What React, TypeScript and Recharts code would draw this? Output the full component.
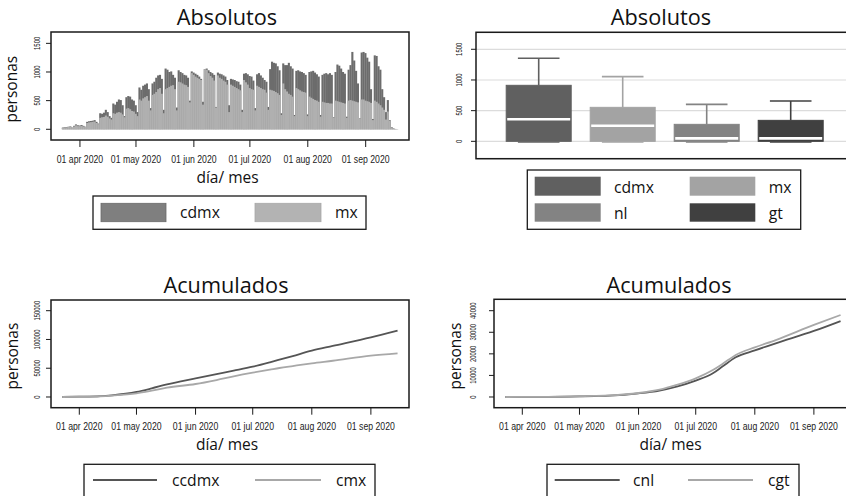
import React from 'react';
import { BarChart, Bar, XAxis, YAxis, LineChart, Line, CartesianGrid } from 'recharts';

// ---------- data ----------
const DAY_MS = 86400000;
const firstDate = '2020-03-23';

// daily cases, one value per day starting 23 mar 2020
const cdmx = [
  30, 35, 40, 45, 50, 30,
  60, 85, 70, 65, 75, 60, 45,
  130, 140, 145, 150, 160, 130, 100,
  280, 270, 290, 340, 300, 230, 200,
  450, 430, 480, 520, 510, 420, 230,
  560, 580, 570, 520, 500, 420, 300,
  730, 690, 760, 780, 800, 700, 370,
  800, 830, 900, 940, 950, 880, 340,
  1060, 1040, 1000, 1010, 950, 900, 380,
  1030, 1000, 980, 950, 940, 900, 500,
  1010, 990, 970, 950, 920, 880, 480,
  1050, 1060, 1030, 1000, 980, 950, 390,
  990, 970, 960, 940, 920, 860, 420,
  880, 870, 860, 840, 830, 780, 340,
  970, 980, 960, 930, 920, 850, 370,
  960, 980, 940, 900, 860, 830, 390,
  1050, 1180, 1160, 1150, 1100, 1030, 280,
  1150, 1120, 1120, 1160, 1100, 1060, 250,
  1020, 1030, 1010, 1000, 980, 950, 260,
  1000, 1010, 1020, 990, 960, 920, 250,
  950, 970, 980, 960, 980, 950, 210,
  1000, 1130, 1110, 1060, 1000, 970, 220,
  1040, 1120, 1350, 1200, 1020, 800, 190,
  1340, 1350, 1330, 1250, 1180, 700, 180,
  1290, 1280, 1100, 1040, 700, 560, 300,
  510, 160, 40, 15, 6, 3,
];

const mx = [
  25, 30, 35, 40, 40, 28,
  50, 70, 55, 55, 60, 50, 40,
  110, 120, 125, 130, 135, 110, 90,
  200, 210, 215, 240, 220, 190, 170,
  280, 270, 290, 300, 290, 260, 210,
  360, 370, 350, 320, 310, 270, 230,
  520, 500, 540, 560, 580, 500, 330,
  600, 620, 650, 700, 720, 620, 280,
  700, 720, 740, 760, 770, 700, 330,
  830, 820, 800, 780, 770, 740, 470,
  980, 950, 920, 900, 880, 860, 430,
  1050, 1040, 980, 930, 900, 850, 380,
  940, 900, 880, 850, 830, 780, 300,
  780, 760, 740, 720, 700, 680, 300,
  860, 820, 780, 720, 700, 690, 330,
  760, 740, 720, 700, 690, 640, 340,
  690, 680, 670, 650, 630, 600, 250,
  800, 700, 660, 620, 600, 570, 230,
  720, 700, 680, 660, 650, 640, 230,
  570, 550, 530, 510, 500, 480, 220,
  480, 470, 460, 460, 450, 450, 200,
  500, 490, 480, 470, 460, 450, 200,
  500, 510, 500, 490, 480, 470, 180,
  520, 520, 500, 490, 480, 460, 160,
  500, 480, 450, 420, 380, 340, 170,
  310, 150, 35, 12, 5, 2,
];

const monthTickDates = ['2020-04-01', '2020-05-01', '2020-06-01', '2020-07-01', '2020-08-01', '2020-09-01'];
const monthTickLabels = ['01 apr 2020', '01 may 2020', '01 jun 2020', '01 jul 2020', '01 aug 2020', '01 sep 2020'];
const absTicks = [0, 500, 1000, 1500];

// boxplot summaries of the daily counts
const boxStates = ['cdmx', 'mx', 'nl', 'gt'];
const boxMin = [0, 0, 0, 0];
const boxQ1 = [0, 0, 0, 0];
const boxMedian = [359, 254, 49, 49];
const boxQ3 = [913, 554, 277, 342];
const boxMax = [1353, 1054, 603, 657];

// accumulated cases
const cumDates = [
  '2020-03-23', '2020-04-01', '2020-04-12', '2020-04-18', '2020-05-01', '2020-05-09',
  '2020-05-17', '2020-06-01', '2020-06-12', '2020-06-21', '2020-07-01', '2020-07-10',
  '2020-07-15', '2020-07-22', '2020-08-01', '2020-08-12', '2020-09-01', '2020-09-15',
];
const ccdmx = [0, 500, 1500, 3000, 8700, 15000, 22000, 32400, 39800, 45800, 52700, 60300, 64800, 71200, 80500, 88700, 103600, 115200];
const cmx = [0, 400, 1300, 2500, 6400, 11000, 16200, 22600, 29500, 35900, 42300, 47500, 50400, 53800, 58500, 63000, 71800, 75800];
const cnl = [0, 20, 50, 80, 300, 450, 650, 1700, 3000, 4800, 7600, 11000, 14100, 18400, 21600, 24900, 30600, 35200];
const cgt = [0, 30, 70, 110, 350, 500, 750, 1850, 3400, 5600, 8650, 12500, 15300, 19500, 23000, 26400, 33400, 38000];
const cumTicksBig = [0, 50000, 100000, 150000];
const cumTicksSmall = [0, 10000, 20000, 30000, 40000];

// ---------- helpers ----------
const toTime = (s: string) => Date.parse(s + 'T00:00:00Z');
const t0 = toTime(firstDate);
const apr1 = toTime('2020-04-01');
const monthTickTimes = monthTickDates.map(toTime);
const fmtMonth = (t: number) => monthTickLabels[monthTickTimes.indexOf(t)] ?? '';

const dailyRows = cdmx.map((v, i) => ({ t: t0 + i * DAY_MS, cdmx: v, mx: mx[i] }));
const boxRows = boxStates.map((s, i) => ({
  state: s,
  range: [boxMin[i], boxMax[i]],
  q1: boxQ1[i],
  median: boxMedian[i],
  q3: boxQ3[i],
}));
const cumRows = cumDates.map((d, i) => ({ t: toTime(d), ccdmx: ccdmx[i], cmx: cmx[i], cnl: cnl[i], cgt: cgt[i] }));

// ---------- styles ----------
const SANS = "'Open Sans', 'Noto Sans', sans-serif";
const TICK_FONT = "'Liberation Sans', Arial, sans-serif";
const INK = '#1a1a1a';
const BAR_DARK = '#6c6c6c';
const BAR_LIGHT = '#b0b0b0';
const BOX_COLORS: Record<string, string> = { cdmx: '#606060', mx: '#a3a3a3', nl: '#838383', gt: '#404040' };
const LINE_DARK = '#555555';
const LINE_LIGHT = '#a8a8a8';

const barDomain = [apr1 - 15.5 * DAY_MS, apr1 + 176.2 * DAY_MS];
const lineDomain = [apr1 - 14.85 * DAY_MS, apr1 + 173.0 * DAY_MS];

// condensed date labels under the x axis
const DateTick = (props: any) => {
  const { x, y, payload } = props;
  return (
    <text transform={`translate(${x} ${y}) scale(0.83 1)`} textAnchor="middle" dy={7.6}
      fontSize={10.5} fontFamily={TICK_FONT} fill="#222">
      {fmtMonth(payload.value)}
    </text>
  );
};

// vertical, condensed value labels on the y axis
const RotatedTick = (props: any) => {
  const { x, y, payload } = props;
  return (
    <text transform={`translate(${x} ${y}) rotate(-90) scale(0.7 1)`} textAnchor="middle"
      fontSize={8.5} fontFamily={TICK_FONT} fill="#222">
      {payload.value}
    </text>
  );
};

// one day's column, widened to close the gap to its neighbours
const DayBar = (props: any) => {
  const { x, y, width, height, fill } = props;
  if (!(height > 0)) return null;
  const cx = x + width / 2;
  return <rect x={cx - 1.05} y={y} width={2.1} height={height} fill={fill} />;
};

const BoxShape = (props: any) => {
  const { x, y, width, height, payload } = props;
  const [lo, hi] = payload.range;
  const bottom = y + height;
  const px = (v: number) => bottom - ((v - lo) / (hi - lo)) * height;
  const cx = x + width / 2;
  const cap = width * 0.32;
  const col = BOX_COLORS[payload.state];
  const top = px(payload.q3);
  const base = px(payload.q1);
  return (
    <g>
      <line x1={cx} x2={cx} y1={top} y2={px(hi)} stroke={col} strokeWidth={1.6} />
      <line x1={cx - cap} x2={cx + cap} y1={px(hi)} y2={px(hi)} stroke={col} strokeWidth={1.6} />
      <line x1={cx - cap} x2={cx + cap} y1={px(lo) + 0.8} y2={px(lo) + 0.8} stroke={col} strokeWidth={1.4} />
      <rect x={x} y={top} width={width} height={base - top} fill={col} stroke={col} strokeWidth={1} />
      <line x1={x + 1} x2={x + width - 1} y1={px(payload.median)} y2={px(payload.median)} stroke="#ffffff" strokeWidth={2.6} />
    </g>
  );
};

const pos = (left: number, top: number): React.CSSProperties => ({ position: 'absolute', left, top });

export default function App() {
  return (
    <div style={{ position: 'fixed', left: 0, top: 0, width: 846, height: 496, overflow: 'hidden', background: '#ffffff' }}>
      {/* daily bars */}
      <div style={pos(0, 0)}>
        <BarChart width={423} height={250} data={dailyRows} margin={{ top: 32, right: 14, left: 11, bottom: 70 }}>
          <XAxis xAxisId="a" dataKey="t" type="number" domain={barDomain} allowDataOverflow
            ticks={monthTickTimes} interval={0} height={40}
            axisLine={false} tickSize={7} tickMargin={8} tick={<DateTick />} tickLine={{ stroke: INK }} />
          <XAxis xAxisId="b" dataKey="t" type="number" domain={barDomain} allowDataOverflow hide />
          <YAxis domain={[-187, 1698]} ticks={absTicks} interval={0} width={40} axisLine={false}
            tickSize={5} tickMargin={6.3} tick={<RotatedTick />} tickLine={{ stroke: INK }} allowDataOverflow />
          <Bar xAxisId="a" dataKey="cdmx" fill={BAR_DARK} shape={<DayBar />} isAnimationActive={false} />
          <Bar xAxisId="b" dataKey="mx" fill={BAR_LIGHT} shape={<DayBar />} isAnimationActive={false} />
        </BarChart>
      </div>

      {/* boxplots */}
      <div style={pos(423, 0)}>
        <BarChart width={423} height={250} data={boxRows} margin={{ top: 32.3, right: 0, left: 13, bottom: 91.3 }}>
          <CartesianGrid vertical={false} stroke="#dcdcdc" strokeWidth={1.2} />
          <XAxis dataKey="state" hide padding={{ left: 20.2, right: 13.8 }} />
          <YAxis domain={[-283, 1777]} ticks={absTicks} interval={0} width={40} axisLine={false}
            tickSize={5} tickMargin={9} tick={<RotatedTick />} tickLine={{ stroke: INK }} allowDataOverflow />
          <Bar dataKey="range" barSize={65} shape={<BoxShape />} isAnimationActive={false} />
        </BarChart>
      </div>

      {/* accumulated cdmx / mx */}
      <div style={pos(0, 250)}>
        <LineChart width={423} height={246} data={cumRows} margin={{ top: 50, right: 14, left: 11, bottom: 48.3 }}>
          <XAxis dataKey="t" type="number" domain={lineDomain} allowDataOverflow
            ticks={monthTickTimes} interval={0} height={40}
            axisLine={false} tickSize={7} tickMargin={7.3} tick={<DateTick />} tickLine={{ stroke: INK }} />
          <YAxis domain={[-18600, 168600]} ticks={cumTicksBig} interval={0} width={40} axisLine={false}
            tickSize={5} tickMargin={6.3} tick={<RotatedTick />} tickLine={{ stroke: INK }} allowDataOverflow />
          <Line dataKey="ccdmx" type="monotone" stroke={LINE_DARK} strokeWidth={1.8} dot={false} isAnimationActive={false} />
          <Line dataKey="cmx" type="monotone" stroke={LINE_LIGHT} strokeWidth={1.8} dot={false} isAnimationActive={false} />
        </LineChart>
      </div>

      {/* accumulated nl / gt */}
      <div style={pos(423, 250)}>
        <LineChart width={429} height={246} data={cumRows} margin={{ top: 49.3, right: 0, left: 31, bottom: 48.3 }}>
          <XAxis dataKey="t" type="number" domain={lineDomain} allowDataOverflow
            ticks={monthTickTimes} interval={0} height={40}
            axisLine={false} tickSize={7} tickMargin={7.3} tick={<DateTick />} tickLine={{ stroke: INK }} />
          <YAxis domain={[-4960, 45280]} ticks={cumTicksSmall} interval={0} width={40} axisLine={false}
            tickSize={5} tickMargin={13} tick={<RotatedTick />} tickLine={{ stroke: INK }} allowDataOverflow />
          <Line dataKey="cnl" type="monotone" stroke={LINE_DARK} strokeWidth={1.8} dot={false} isAnimationActive={false} />
          <Line dataKey="cgt" type="monotone" stroke={LINE_LIGHT} strokeWidth={1.8} dot={false} isAnimationActive={false} />
        </LineChart>
      </div>

      {/* frames, titles, axis titles and legends */}
      <svg width={846} height={496} style={{ position: 'absolute', left: 0, top: 0, pointerEvents: 'none' }}
        fontFamily={SANS} fill="#111">
        <g fill="none" stroke={INK} strokeWidth={1.5}>
          <rect x={51} y={32} width={358} height={108} />
          <rect x={476} y={32.3} width={380} height={126.4} />
          <rect x={51} y={300} width={358} height={107.7} />
          <rect x={494} y={299.3} width={370} height={108.4} />
        </g>

        <g fontSize={21.7} textAnchor="middle">
          <text x={227} y={25}>Absolutos</text>
          <text x={661} y={25}>Absolutos</text>
          <text x={226} y={292.5}>Acumulados</text>
          <text x={669} y={292.5}>Acumulados</text>
        </g>

        <g fontSize={15.5} textAnchor="middle">
          <text x={227.5} y={183}>día/ mes</text>
          <text x={227} y={450}>día/ mes</text>
          <text x={670.5} y={450}>día/ mes</text>
          <text x={17.5} y={89.2} transform="rotate(-90 17.5 89.2)">personas</text>
          <text x={17.5} y={356} transform="rotate(-90 17.5 356)">personas</text>
          <text x={460.5} y={356} transform="rotate(-90 460.5 356)">personas</text>
        </g>

        {/* legend: daily bars */}
        <rect x={93} y={196} width={273} height={33.3} fill="none" stroke={INK} strokeWidth={1.3} />
        <rect x={101} y={203.3} width={65} height={18.4} fill="#7f7f7f" stroke="#6a6a6a" strokeWidth={0.8} />
        <rect x={255} y={203.3} width={66} height={18.4} fill="#b3b3b3" stroke="#a8a8a8" strokeWidth={0.8} />
        <g fontSize={15.7}>
          <text x={180} y={218}>cdmx</text>
          <text x={335} y={218}>mx</text>
        </g>

        {/* legend: boxplots */}
        <rect x={527.3} y={170} width={273.4} height={59.3} fill="none" stroke={INK} strokeWidth={1.3} />
        <rect x={534.7} y={176.7} width={66} height={19} fill={BOX_COLORS.cdmx} />
        <rect x={534.7} y={203.3} width={66} height={18.4} fill={BOX_COLORS.nl} />
        <rect x={689.7} y={176.7} width={65.6} height={19} fill={BOX_COLORS.mx} />
        <rect x={689.7} y={203.3} width={65.6} height={18.4} fill={BOX_COLORS.gt} />
        <g fontSize={15.7}>
          <text x={614} y={192.5}>cdmx</text>
          <text x={614} y={218.8}>nl</text>
          <text x={768.7} y={192.5}>mx</text>
          <text x={768.7} y={218.8}>gt</text>
        </g>

        {/* legend: accumulated cdmx / mx */}
        <rect x={84} y={464.3} width={291} height={50} fill="none" stroke={INK} strokeWidth={1.3} />
        <line x1={93} x2={157} y1={480} y2={480} stroke={LINE_DARK} strokeWidth={1.8} />
        <line x1={255} x2={321} y1={480} y2={480} stroke={LINE_LIGHT} strokeWidth={1.8} />
        <g fontSize={15.7}>
          <text x={172} y={486}>ccdmx</text>
          <text x={336} y={486}>cmx</text>
        </g>

        {/* legend: accumulated nl / gt */}
        <rect x={547} y={464.3} width={252} height={50} fill="none" stroke={INK} strokeWidth={1.3} />
        <line x1={554.7} x2={619.7} y1={480} y2={480} stroke={LINE_DARK} strokeWidth={1.8} />
        <line x1={688} x2={753} y1={480} y2={480} stroke={LINE_LIGHT} strokeWidth={1.8} />
        <g fontSize={15.7}>
          <text x={633} y={486}>cnl</text>
          <text x={768} y={486}>cgt</text>
        </g>
      </svg>
    </div>
  );
}
